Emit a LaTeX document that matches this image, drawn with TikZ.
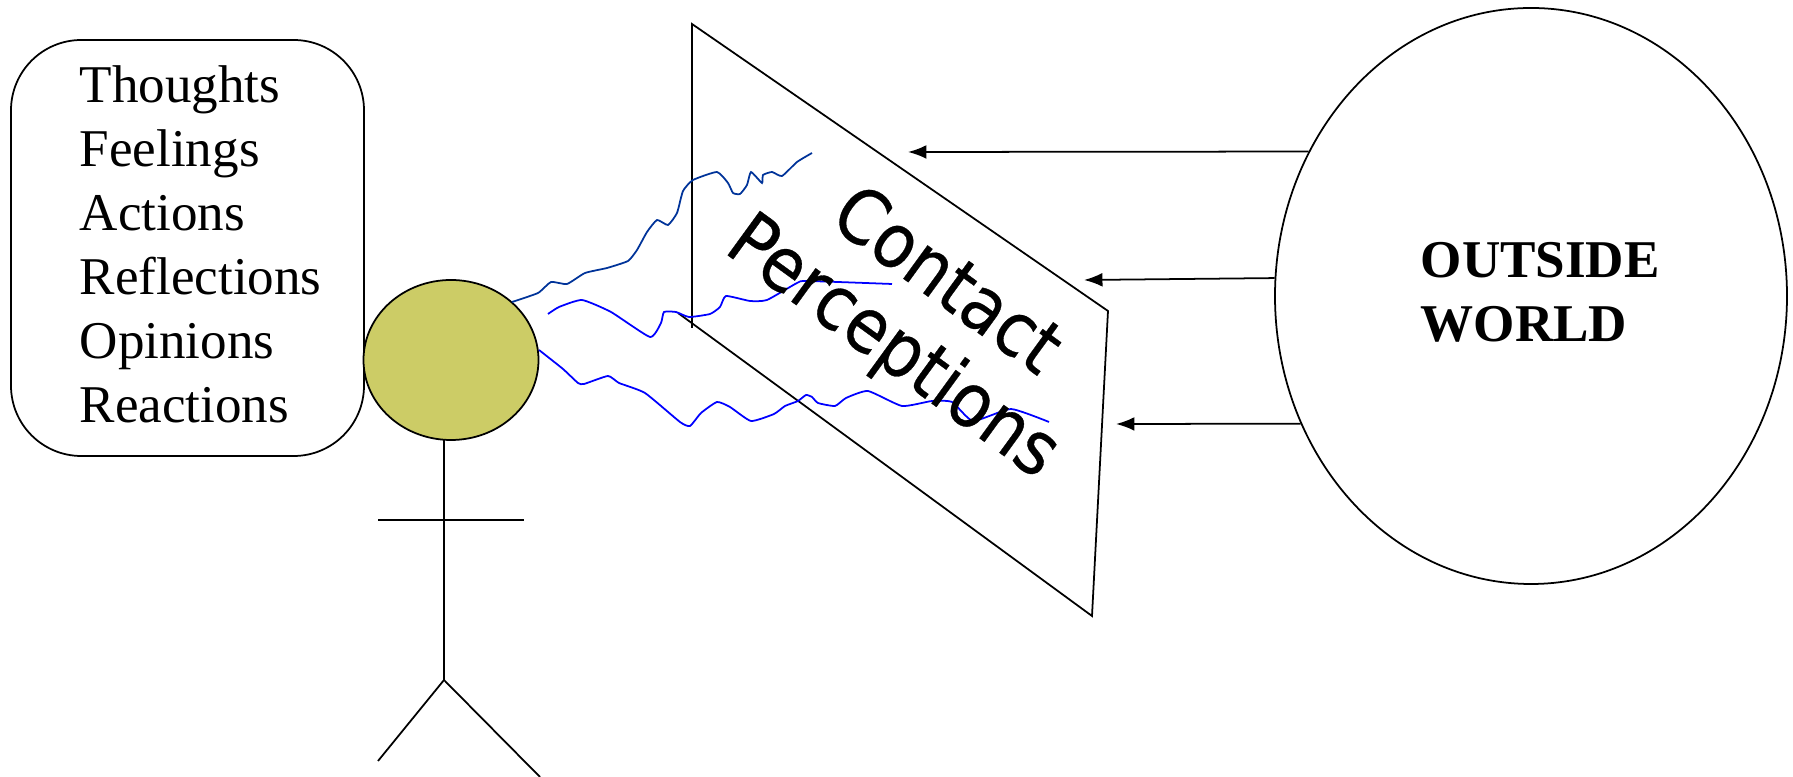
\documentclass[tikz,border=0pt]{standalone}
\usepackage{fontspec}
\setmainfont{Liberation Serif}
\newfontfamily\screenfont[FakeStretch=0.89,FakeBold=0.4]{DejaVu Sans}
\usetikzlibrary{arrows.meta,shapes.geometric}
\definecolor{headfill}{RGB}{204,204,102}
\definecolor{darkline}{RGB}{0,51,153}
\tikzset{
  outline/.style={line width=0.5pt},
  strand/.style={line width=0.5pt,blue},
  listtext/.style={font=\fontsize{15.1}{18.2}\selectfont,align=left,inner sep=0pt},
  screentext/.style={font=\screenfont\fontsize{21.4}{24}\selectfont,rotate=-36,inner sep=0pt},
}
\begin{document}
\begin{tikzpicture}[x=0.01cm,y=-0.01cm,>=Latex]
\useasboundingbox (0,0) rectangle (1793,777);
% the person and what goes on inside
\node[outline,draw,rounded corners=20pt,minimum width=353*0.01cm,minimum height=416*0.01cm,inner sep=0pt] (mind) at (187.5,248) {};
\node[listtext,anchor=west] (list) at (79,244) {Thoughts\\Feelings\\Actions\\Reflections\\Opinions\\Reactions};
\node[outline,draw,fill=headfill,ellipse,minimum width=175*0.01cm,minimum height=160*0.01cm,inner sep=0pt] (head) at (451,360) {};
\coordinate (hip) at (444,680);
\coordinate (arml) at (378,520);
\coordinate (armr) at (524,520);
\coordinate (footl) at (378,761);
\coordinate (footr) at (540,777);
\draw[outline] (444,440)--(hip);
\draw[outline] (arml)--(armr);
\draw[outline] (footl)--(hip)--(footr);
% contact plane
\draw[outline] (692,328)--(692,24)--(1108,311)--(1092,616)--(678,313);
% wiggly lines from the head
\draw[strand,darkline] plot[smooth,tension=0.3] coordinates {(512,302) (538,293) (551,282) (567,284) (585,273) (607,268) (628,261) (637,250) (647,232) (657,220) (668,225) (677,213) (683,191) (693,180) (717,172) (728,183) (733,193) (740,194) (747,185) (751,172) (762,183) (763,175) (772,172) (782,176) (797,162) (812,153)};
\draw[strand] plot[smooth,tension=0.3] coordinates {(548,314) (559,307) (582,300) (611,312) (650,337) (661,323) (664,312) (676,312) (689,317) (710,314) (720,307) (726,296) (750,301) (767,300) (797,283) (807,281) (892,284)};
\draw[strand] plot[smooth,tension=0.3] coordinates {(539,350) (563,369) (578,383) (584,384) (608,376) (619,383) (645,393) (680,422) (690,426) (701,413) (717,402) (730,407) (751,421) (774,414) (785,406) (798,401) (806,395) (812,397) (818,403) (835,406) (846,398) (868,391) (902,406) (932,401) (952,402) (973,421) (1011,409) (1049,422)};
\node[screentext] (contact) at (949,278) {Contact};
\node[screentext] (perceptions) at (892,349) {Perceptions};
% outside world
\node[outline,draw,ellipse,minimum width=512*0.01cm,minimum height=576*0.01cm,inner sep=0pt] (world) at (1531,296) {};
\node[listtext,font=\fontsize{15.1}{18.2}\selectfont\bfseries,anchor=west] (worldtext) at (1420,292) {OUTSIDE\\WORLD};
\coordinate (tipa) at (908,152);
\coordinate (tipb) at (1084,280);
\coordinate (tipc) at (1116,424);
\draw[outline,->] (world.147)--(tipa);
\draw[outline,->] (world.176.4)--(tipb);
\draw[outline,->] (world.209)--(tipc);
\end{tikzpicture}
\end{document}
